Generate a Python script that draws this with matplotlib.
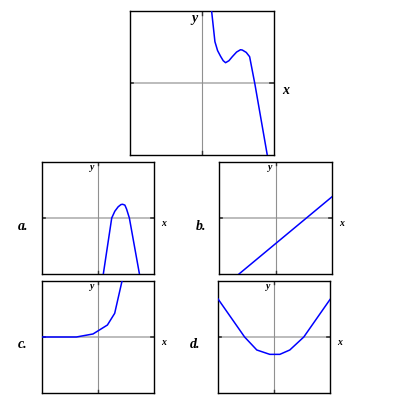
import matplotlib
matplotlib.use('Agg')
import matplotlib.pyplot as plt

# main graph f(x)
top_x = [1.39, 1.85, 2.22, 2.64, 3.0, 3.33, 3.8, 4.26, 4.86, 5.4, 5.65, 6.2, 6.67, 7.4, 9.12]
top_y = [10, 5.74, 4.5, 3.7, 3.1, 2.82, 3.1, 3.65, 4.3, 4.62, 4.58, 4.25, 3.65, -0.14, -10]

# candidate graphs
a_x = [0.95, 2.45, 3.0, 3.6, 4.1, 4.4, 4.8, 5.1, 5.6, 7.4]
a_y = [-10, 0, 1.2, 2.0, 2.4, 2.45, 2.3, 1.6, 0, -10]

b_x = [-6.46, 10]
b_y = [-10, 3.79]

c_x = [-10, -3.86, -0.89, 1.68, 2.98, 4.29]
c_y = [0, 0, 0.54, 2.14, 4.23, 10]

d_x = [-10, -5.25, -3.07, -0.75, 1.04, 2.82, 5.32, 10]
d_y = [6.8, 0, -2.32, -3.1, -3.1, -2.32, 0, 6.7]

labels = ['a.', 'b.', 'c.', 'd.']

fig = plt.figure(figsize=(4, 4), dpi=100)
serif = ['Liberation Serif', 'DejaVu Serif']


def panel(rect, xs, ys, fs):
    ax = fig.add_axes(rect)
    ax.set_xlim(-10, 10)
    ax.set_ylim(-10, 10)
    ax.set_xticks([])
    ax.set_yticks([])
    for s in ax.spines.values():
        s.set_linewidth(1.0)
    ax.plot([-10, 10], [0, 0], color='#b0b0b0', lw=1.2, zorder=1)
    ax.plot([0, 0], [-10, 10], color='#909090', lw=0.8, zorder=1)
    # small dark end marks
    for x0, x1 in [(-10, -9.5), (9.5, 10)]:
        ax.plot([x0, x1], [0, 0], color='#333333', lw=1.2, zorder=2)
    for y0, y1 in [(-10, -9.5), (9.5, 10)]:
        ax.plot([0, 0], [y0, y1], color='#333333', lw=1.0, zorder=2)
    ax.plot(xs, ys, color='#0000ff', lw=1.1, zorder=3, clip_on=True)
    ax.text(-0.6, 9.0, 'y', fontsize=fs, family=serif, style='italic',
            weight='bold', ha='right', va='center')
    ax.text(1.06, -0.2, 'x', fontsize=fs, family=serif, style='italic',
            weight='bold', ha='left', va='top', transform=ax.get_yaxis_transform())
    return ax


panel([0.324, 0.6125, 0.36, 0.36], top_x, top_y, 10)

rects = [[0.105, 0.315, 0.28, 0.28], [0.5475, 0.315, 0.2825, 0.28],
         [0.105, 0.0175, 0.28, 0.28], [0.545, 0.0175, 0.28, 0.28]]
data = [(a_x, a_y), (b_x, b_y), (c_x, c_y), (d_x, d_y)]
label_x = [0.045, 0.49, 0.045, 0.475]
for rect, (xs, ys), lab, lx in zip(rects, data, labels, label_x):
    ax = panel(rect, xs, ys, 7)
    fig.text(lx, rect[1] + rect[3] / 2 - 0.02, lab, fontsize=10, family=serif,
             style='italic', weight='bold', ha='left', va='center')

fig.savefig('out.png', dpi=100)
